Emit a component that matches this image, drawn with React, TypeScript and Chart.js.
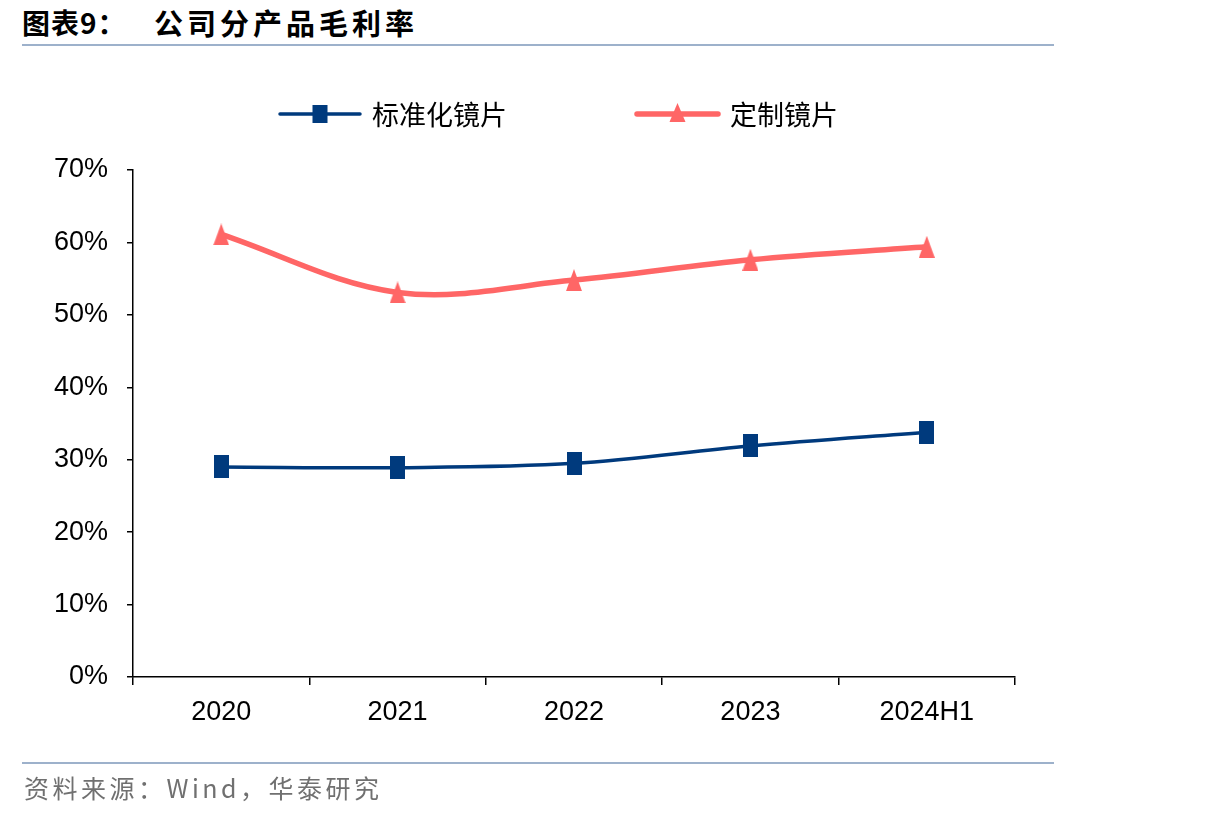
import React, { useEffect, useRef } from "react";
import { Chart, registerables } from "chart.js";

Chart.register(...registerables);

const categories = ["2020", "2021", "2022", "2023", "2024H1"];
const standardLens = [29.0, 28.9, 29.5, 31.9, 33.8];
const customLens = [61.1, 53.1, 54.8, 57.6, 59.4];
const seriesNames = ["标准化镜片", "定制镜片"];
const yTicks = [0, 10, 20, 30, 40, 50, 60, 70];

const BLUE = "#003A7D";
const RED = "#FF6666";
const TICK_FONT = "'Liberation Sans', Arial, sans-serif";
const CJK_FONT = "'Noto Sans CJK SC', sans-serif";

// Narrow marker glyphs rendered once into small canvases
function makeMarker(kind: "rect" | "triangle", w: number, h: number, color: string) {
  const c = document.createElement("canvas");
  c.width = w;
  c.height = h;
  const ctx = c.getContext("2d")!;
  ctx.fillStyle = color;
  if (kind === "rect") {
    ctx.fillRect(0, 0, w, h);
  } else {
    ctx.beginPath();
    ctx.moveTo(w / 2, 0);
    ctx.lineTo(w, h);
    ctx.lineTo(0, h);
    ctx.closePath();
    ctx.fill();
  }
  return c;
}

// Legend drawn as line + marker pairs above the plot
const lineLegend = {
  id: "lineLegend",
  afterDraw(chart: any) {
    const ctx = chart.ctx;
    const items = [
      { x0: 280, x1: 360, textX: 372, ds: chart.data.datasets[0], kind: "rect" },
      { x0: 637, x1: 718, textX: 730, ds: chart.data.datasets[1], kind: "triangle" },
    ];
    const y = 114;
    ctx.save();
    items.forEach((it) => {
      ctx.strokeStyle = it.ds.borderColor;
      ctx.lineWidth = it.ds.borderWidth;
      ctx.lineCap = "round";
      ctx.beginPath();
      ctx.moveTo(it.x0, y);
      ctx.lineTo(it.x1, y);
      ctx.stroke();
      const cx = (it.x0 + it.x1) / 2;
      ctx.fillStyle = it.ds.borderColor;
      if (it.kind === "rect") {
        ctx.fillRect(cx - 7.5, y - 9, 15, 18);
      } else {
        ctx.beginPath();
        ctx.moveTo(cx, y - 11);
        ctx.lineTo(cx + 8, y + 8);
        ctx.lineTo(cx - 8, y + 8);
        ctx.closePath();
        ctx.fill();
      }
      ctx.fillStyle = "#000";
      ctx.font = `27px ${CJK_FONT}`;
      ctx.textBaseline = "middle";
      ctx.textAlign = "left";
      ctx.fillText(it.ds.label, it.textX, y + 1);
    });
    ctx.restore();
  },
};

export default function App() {
  const ref = useRef<HTMLCanvasElement | null>(null);

  useEffect(() => {
    if (!ref.current) return;
    const squareMarker = makeMarker("rect", 15, 23, BLUE);
    const triMarker = makeMarker("triangle", 16, 22, RED);
    const chart = new Chart(ref.current, {
      type: "line",
      data: {
        labels: categories,
        datasets: [
          {
            label: seriesNames[0],
            data: standardLens,
            borderColor: BLUE,
            backgroundColor: BLUE,
            borderWidth: 3.5,
            pointStyle: squareMarker,
            pointRadius: 11,
            pointHoverRadius: 11,
            pointBorderWidth: 0,
            tension: 0.35,
          },
          {
            label: seriesNames[1],
            data: customLens,
            borderColor: RED,
            backgroundColor: RED,
            borderWidth: 5.5,
            pointStyle: triMarker,
            pointRadius: 12,
            pointHoverRadius: 12,
            pointBorderWidth: 0,
            tension: 0.35,
          },
        ],
      },
      options: {
        animation: false,
        responsive: false,
        maintainAspectRatio: false,
        layout: { padding: { left: 0, right: 191, top: 170, bottom: 0 } },
        plugins: {
          legend: { display: false },
          tooltip: { enabled: false },
        },
        scales: {
          x: {
            type: "category",
            offset: true,
            afterFit: (s: any) => {
              s.height = 140;
            },
            border: { display: true, color: "#000", width: 1.5 },
            grid: {
              display: true,
              offset: true,
              drawOnChartArea: false,
              drawTicks: true,
              tickLength: 8,
              color: "#000",
              lineWidth: 1.5,
            },
            ticks: {
              color: "#000",
              font: { family: TICK_FONT, size: 27 },
              padding: 11,
              maxRotation: 0,
            },
          },
          y: {
            min: 0,
            max: 70,
            afterFit: (s: any) => {
              s.width = 133;
            },
            afterBuildTicks: (s: any) => {
              s.ticks = yTicks.map((v) => ({ value: v }));
            },
            border: { display: true, color: "#000", width: 1.5 },
            grid: {
              display: true,
              drawOnChartArea: false,
              drawTicks: true,
              tickLength: 6,
              color: "#000",
              lineWidth: 1.5,
            },
            ticks: {
              color: "#000",
              font: { family: TICK_FONT, size: 27 },
              padding: 19,
              callback: (v: any) => `${v}%`,
            },
          },
        },
      },
      plugins: [lineLegend],
    });
    return () => chart.destroy();
  }, []);

  return (
    <div
      style={{
        position: "absolute",
        left: 0,
        top: 0,
        width: 1206,
        height: 817,
        background: "#fff",
        overflow: "hidden",
      }}
    >
      <div
        style={{
          position: "absolute",
          left: 22,
          top: 3,
          fontFamily: CJK_FONT,
          fontWeight: 700,
          fontSize: 28,
          letterSpacing: 1,
          lineHeight: "38px",
          color: "#000",
          whiteSpace: "nowrap",
        }}
      >
        图表9：
      </div>
      <div
        style={{
          position: "absolute",
          left: 154,
          top: 3,
          fontFamily: CJK_FONT,
          fontWeight: 700,
          fontSize: 29,
          letterSpacing: 4,
          lineHeight: "38px",
          color: "#000",
          whiteSpace: "nowrap",
        }}
      >
        公司分产品毛利率
      </div>
      <div
        style={{
          position: "absolute",
          left: 22,
          top: 44,
          width: 1032,
          height: 2,
          background: "#9DB1CB",
        }}
      />
      <canvas
        ref={ref}
        width={1206}
        height={817}
        style={{ position: "absolute", left: 0, top: 0 }}
      />
      <div
        style={{
          position: "absolute",
          left: 22,
          top: 762,
          width: 1032,
          height: 2,
          background: "#9DB1CB",
        }}
      />
      <div
        style={{
          position: "absolute",
          left: 24,
          top: 769,
          fontFamily: CJK_FONT,
          fontSize: 25,
          letterSpacing: 3.5,
          lineHeight: "36px",
          color: "#707070",
          whiteSpace: "nowrap",
        }}
      >
        资料来源：Wind，华泰研究
      </div>
    </div>
  );
}
